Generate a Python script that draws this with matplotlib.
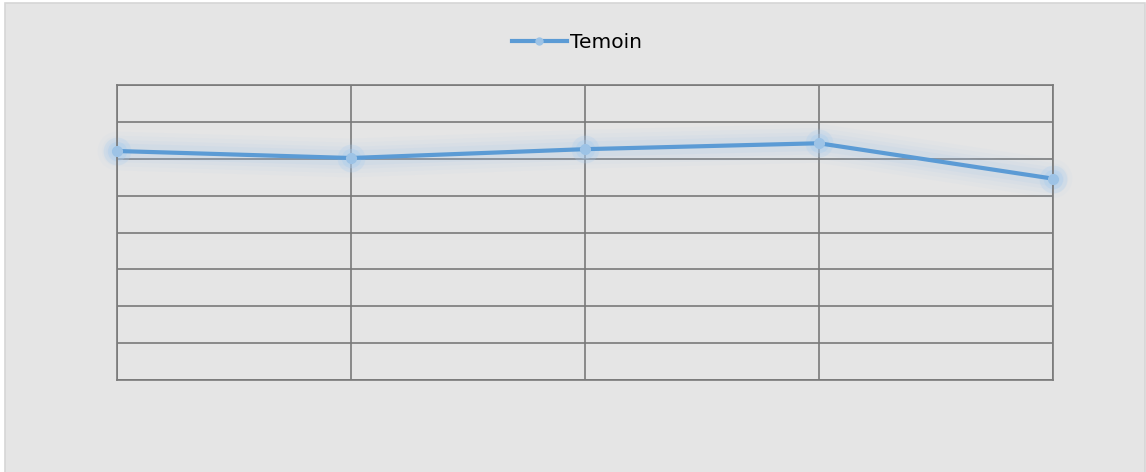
import matplotlib
matplotlib.use("Agg")
import matplotlib.pyplot as plt
from matplotlib.patches import Rectangle
from matplotlib.lines import Line2D

categories = ["1", "2", "3", "4", "5"]
temoin = [62.1, 60.2, 62.6, 64.2, 54.6]
series_name = "Temoin"

W, H = 1146, 472
fig = plt.figure(figsize=(W / 100, H / 100), dpi=100)
fig.patch.set_facecolor("white")
bg = Rectangle((5 / W, -0.02), (1145 - 5) / W, 1.02 - 3 / H, transform=fig.transFigure,
               facecolor="#e5e5e5", edgecolor="#d6d6d6", linewidth=1.2, zorder=-10)
fig.patches.append(bg)

ax = fig.add_axes([117 / W, (H - 380) / H, (1053 - 117) / W, 295 / H])
ax.set_facecolor("none")
ax.set_zorder(1)
x = list(range(len(categories)))

# glow
for lw, a in [(28, 0.045), (22, 0.055), (16, 0.075), (11, 0.10)]:
    ax.plot(x, temoin, color="#9cc3ea", linewidth=lw, alpha=a, solid_capstyle="round",
            solid_joinstyle="round", zorder=2, clip_on=False)
for ms, a in [(20, 0.25), (14, 0.35)]:
    ax.plot(x, temoin, linestyle="none", marker="o", markersize=ms, color="#a9cdef", alpha=a,
            markeredgewidth=0, zorder=2, clip_on=False)
ax.plot(x, temoin, color="#5b9bd5", linewidth=3, marker="o", markersize=7,
        markerfacecolor="#9dc3e6", markeredgecolor="#9dc3e6", zorder=3,
        solid_capstyle="round", clip_on=False)

ax.set_xlim(0, len(categories) - 1)
ax.set_ylim(0, 80)
ax.set_yticks(range(0, 81, 10))
ax.set_xticks(x)
ax.grid(True, color="#7a7a7a", linewidth=1.2)
ax.tick_params(length=0, labelleft=False, labelbottom=False)
for s in ax.spines.values():
    s.set_color("#7a7a7a")
    s.set_linewidth(1.2)
ax.set_axisbelow(True)

handle = Line2D([], [], color="#5b9bd5", linewidth=3, marker="o", markersize=5,
                markerfacecolor="#9dc3e6", markeredgecolor="#9dc3e6")
fig.legend([handle], [series_name], loc="center", bbox_to_anchor=(0.5 + 4 / W, 1 - 43 / H),
           frameon=False, prop={"family": "DejaVu Sans", "size": 14.5}, handlelength=2.7,
           handletextpad=0.15)

fig.savefig("out.png", dpi=100)
